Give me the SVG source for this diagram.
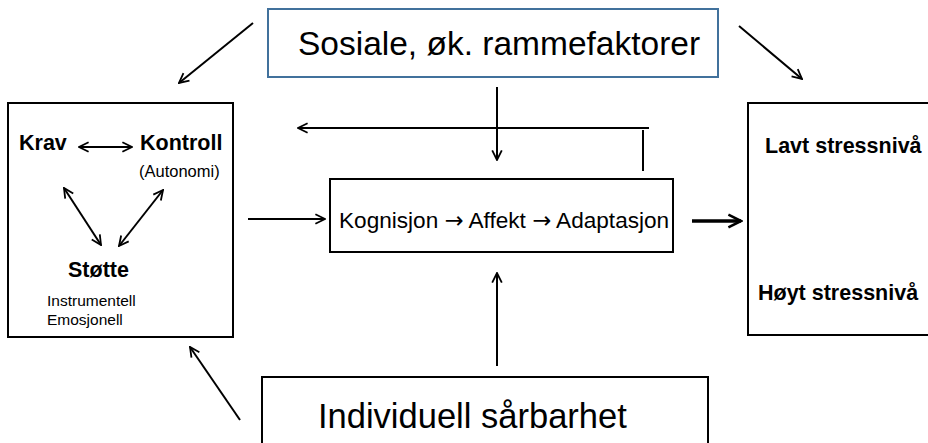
<svg xmlns="http://www.w3.org/2000/svg" width="928" height="443" viewBox="0 0 928 443">
<defs>
<marker id="ah" viewBox="0 0 10 10" refX="9" refY="5" markerWidth="6" markerHeight="6" orient="auto-start-reverse" markerUnits="strokeWidth">
<path d="M1,1 L9,5 L1,9" fill="none" stroke="#000" stroke-width="1.5"/>
</marker>
<marker id="ah2" viewBox="0 0 10 10" refX="9" refY="5" markerWidth="4.5" markerHeight="4.5" orient="auto" markerUnits="strokeWidth">
<path d="M1,1 L9,5 L1,9" fill="none" stroke="#000" stroke-width="1.6"/>
</marker>
</defs>
<style>
.box{fill:#fff;stroke:#000;stroke-width:2}
.bluebox{fill:#fff;stroke:#41719c;stroke-width:2}
.c{fill:none;stroke:#000;stroke-width:2}
.thick{stroke-width:3.5}
.a{marker-end:url(#ah)}
.b{marker-start:url(#ah);marker-end:url(#ah)}
text{font-family:"Liberation Sans",Arial,sans-serif;fill:#000}
.bold{font-weight:bold;font-size:21.5px}
.small{font-size:16.5px}
.tiny{font-size:15.5px}
.arr{font-family:"DejaVu Sans",sans-serif}
</style>
<rect width="928" height="443" fill="#fff"/>

<g id="top-node">
<rect class="bluebox" x="268" y="9" width="450" height="68"/>
<text x="298" y="55" font-size="33.5">Sosiale, øk. rammefaktorer</text>
</g>

<g id="left-node">
<rect class="box" x="8" y="103" width="225" height="234"/>
<text class="bold" x="19" y="150">Krav</text>
<text class="bold" x="140" y="150">Kontroll</text>
<text class="small" x="139" y="177">(Autonomi)</text>
<text class="bold" x="68" y="277" font-size="22.5">Støtte</text>
<text class="tiny" x="47" y="306">Instrumentell</text>
<text class="tiny" x="47" y="325">Emosjonell</text>
</g>

<g id="middle-node">
<rect class="box" x="330" y="179" width="343" height="73"/>
<text x="339" y="228" font-size="22.6">Kognisjon <tspan class="arr">→</tspan> Affekt <tspan class="arr">→</tspan> Adaptasjon</text>
</g>

<g id="right-node">
<rect class="box" x="748" y="103" width="200" height="232"/>
<text class="bold" x="765" y="153" font-size="22">Lavt stressnivå</text>
<text class="bold" x="758" y="300" font-size="22">Høyt stressnivå</text>
</g>

<g id="bottom-node">
<rect class="box" x="262" y="377" width="446" height="80"/>
<text x="318" y="428" font-size="34.5">Individuell sårbarhet</text>
</g>

<g id="connectors">
<line class="c b" x1="79" y1="147" x2="132" y2="147"/>
<line class="c b" x1="64" y1="188" x2="101" y2="245"/>
<line class="c b" x1="163" y1="190" x2="119" y2="246"/>
<line class="c a" x1="253" y1="23" x2="179" y2="83"/>
<line class="c a" x1="739" y1="26" x2="802" y2="79"/>
<line class="c a" x1="497" y1="87" x2="497" y2="160"/>
<line class="c a" x1="649" y1="128" x2="298" y2="128"/>
<line class="c" x1="643" y1="130" x2="643" y2="171"/>
<line class="c a" x1="248" y1="219" x2="325" y2="219"/>
<line class="c thick" x1="692" y1="221" x2="741" y2="221" marker-end="url(#ah2)"/>
<line class="c a" x1="497" y1="366" x2="497" y2="273"/>
<line class="c a" x1="240" y1="420" x2="190" y2="347"/>
</g>
</svg>
